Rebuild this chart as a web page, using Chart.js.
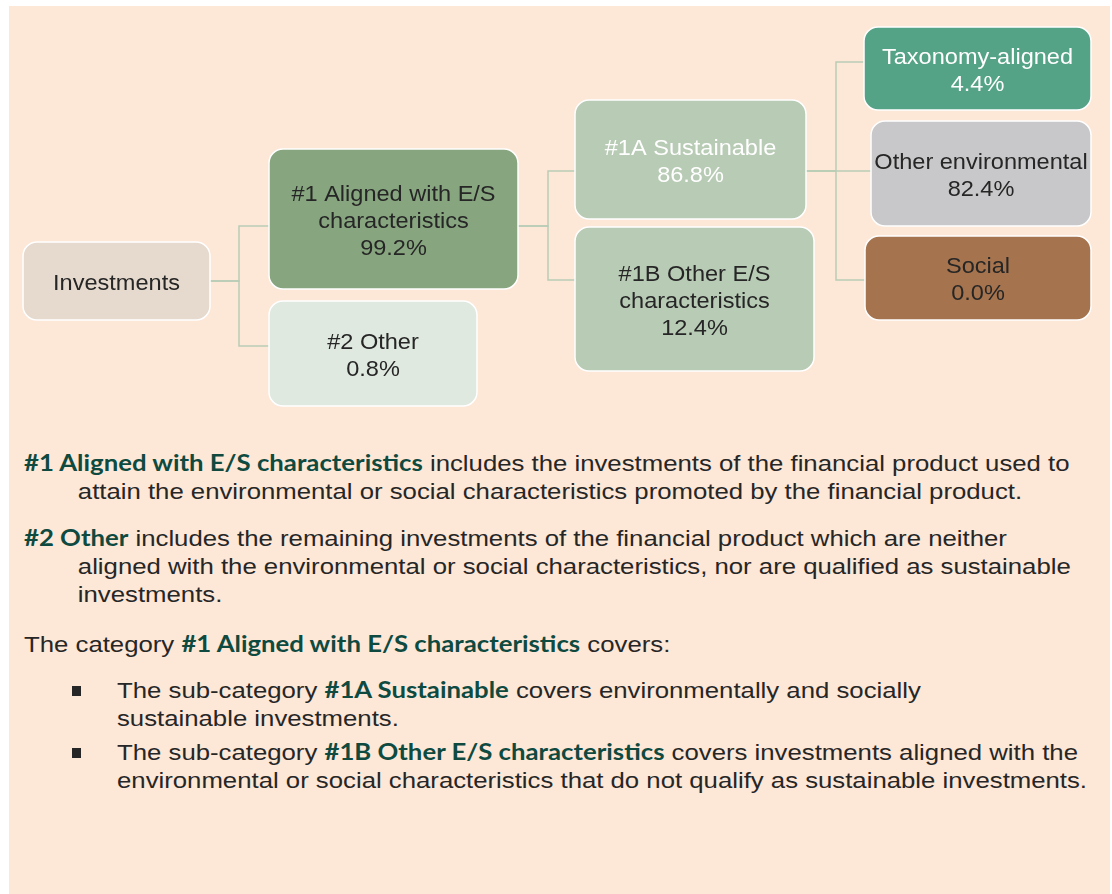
<!DOCTYPE html>
<html>
<head>
<meta charset="utf-8">
<script src="https://cdn.jsdelivr.net/npm/chart.js@4.4.1/dist/chart.umd.min.js"></script>
<style>
  html, body { margin:0; padding:0; background:#ffffff; }
  body { width:1112px; height:894px; position:relative; overflow:hidden; font-family:"Liberation Sans", Arial, sans-serif; }
  #panel { position:absolute; left:9px; top:6px; width:1101px; height:888px; background:#fde7d7; }
  #wrap { position:absolute; left:0; top:0; width:1112px; height:420px; }
  .p, .bul { position:absolute; font-size:22px; line-height:28px; color:#262626; white-space:nowrap;
             transform:scaleX(1.17); transform-origin:0 0; }
  .p { left:24px; }
  .bul { left:117px; }
  .hang { padding-left:46px; text-indent:-46px; }
  .b { font-family:"Lato", sans-serif; font-weight:700; color:#0e4a3f; }
  .sq { position:absolute; left:72px; width:9px; height:10px; background:#262626; }
</style>
</head>
<body>
<div id="panel"></div>
<div id="wrap"><canvas id="c" width="1112" height="420"></canvas></div>

<div class="p hang" style="top:449px;"><span class="b">#1 Aligned with E/S characteristics</span> includes the investments of the financial product used to<br>attain the environmental or social characteristics promoted by the financial product.</div>
<div class="p hang" style="top:524px;"><span class="b">#2 Other</span> includes the remaining investments of the financial product which are neither<br>aligned with the environmental or social characteristics, nor are qualified as sustainable<br>investments.</div>
<div class="p" style="top:630px;">The category <span class="b">#1 Aligned with E/S characteristics</span> covers:</div>
<div class="sq" style="top:686px;"></div>
<div class="bul" style="top:676px;">The sub-category <span class="b">#1A Sustainable</span> covers environmentally and socially<br>sustainable investments.</div>
<div class="sq" style="top:748px;"></div>
<div class="bul" style="top:738px;">The sub-category <span class="b">#1B Other E/S characteristics</span> covers investments aligned with the<br>environmental or social characteristics that do not qualify as sustainable investments.</div>

<script>
// ---- data ----
const nodeNames = [
  ['Investments'],
  ['#1 Aligned with E/S', 'characteristics'],
  ['#2 Other'],
  ['#1A Sustainable'],
  ['#1B Other E/S', 'characteristics'],
  ['Taxonomy-aligned'],
  ['Other environmental'],
  ['Social']
];
const nodeValues = [null, 99.2, 0.8, 86.8, 12.4, 4.4, 82.4, 0.0];
const nodeParents = [null, 0, 0, 1, 1, 3, 3, 3];

// ---- layout & style (not data) ----
const boxes = [ // x0, y0, x1, y1 in chart units
  [23, 242, 210, 320],
  [269, 149, 518, 289],
  [269, 301, 477, 406],
  [575, 100, 806, 219],
  [575, 227, 814, 371],
  [864, 27, 1091, 110],
  [871, 121, 1091, 226],
  [865, 236, 1091, 320]
];
const anchorY = [281, 226, 346, 171, 280, 62, 171, 280]; // connector attach height
const busX = [239, 548, null, 836];
const fills = ['#e6d9ce', '#87a67f', '#e0e9e0', '#b8cbb5', '#b8cbb5', '#55a386', '#c8c8ca', '#a5734d'];
const textCols = ['#262626', '#262626', '#262626', '#ffffff', '#262626', '#ffffff', '#262626', '#262626'];

// connector line datasets built from the tree structure
const connectorSets = [];
nodeParents.forEach((p, i) => {
  if (p === null) return;
  const px = boxes[p][2], py = anchorY[p];
  const bx = busX[p];
  const cx = boxes[i][0], cy = anchorY[i];
  connectorSets.push({
    type: 'scatter',
    data: [{x: px, y: py}, {x: bx, y: py}, {x: bx, y: cy}, {x: cx, y: cy}],
    showLine: true,
    borderColor: '#b9cdb5',
    borderWidth: 1.5,
    pointRadius: 0,
    tension: 0
  });
});

const boxPlugin = {
  id: 'boxes',
  afterDatasetsDraw(chart) {
    const ctx = chart.ctx;
    const xs = chart.scales.x, ys = chart.scales.y;
    boxes.forEach((b, i) => {
      const x0 = xs.getPixelForValue(b[0]), x1 = xs.getPixelForValue(b[2]);
      const y0 = ys.getPixelForValue(b[1]), y1 = ys.getPixelForValue(b[3]);
      const top = Math.min(y0, y1), h = Math.abs(y1 - y0), w = x1 - x0;
      ctx.save();
      ctx.beginPath();
      ctx.roundRect(x0, top, w, h, 14);
      ctx.fillStyle = fills[i];
      ctx.fill();
      ctx.lineWidth = 1.5;
      ctx.strokeStyle = '#ffffff';
      ctx.stroke();
      const lines = nodeNames[i].slice();
      if (nodeValues[i] !== null) lines.push(nodeValues[i].toFixed(1) + '%');
      ctx.font = '22px "Liberation Sans", Arial, sans-serif';
      ctx.fillStyle = textCols[i];
      ctx.textAlign = 'center';
      ctx.textBaseline = 'middle';
      const lh = 27;
      const cx = x0 + w / 2, cy = top + h / 2 + 2.5;
      const startY = cy - (lines.length - 1) * lh / 2;
      lines.forEach((t, k) => {
        ctx.save();
        ctx.translate(cx, startY + k * lh);
        ctx.scale(1.07, 1);
        ctx.fillText(t, 0, 0);
        ctx.restore();
      });
      ctx.restore();
    });
  }
};

new Chart(document.getElementById('c'), {
  type: 'scatter',
  data: { datasets: connectorSets },
  options: {
    responsive: false,
    animation: false,
    layout: { padding: 0 },
    plugins: { legend: { display: false }, tooltip: { enabled: false } },
    scales: {
      x: { type: 'linear', min: 0, max: 1112, display: false },
      y: { type: 'linear', min: 0, max: 420, reverse: true, display: false }
    }
  },
  plugins: [boxPlugin]
});
</script>
</body>
</html>
